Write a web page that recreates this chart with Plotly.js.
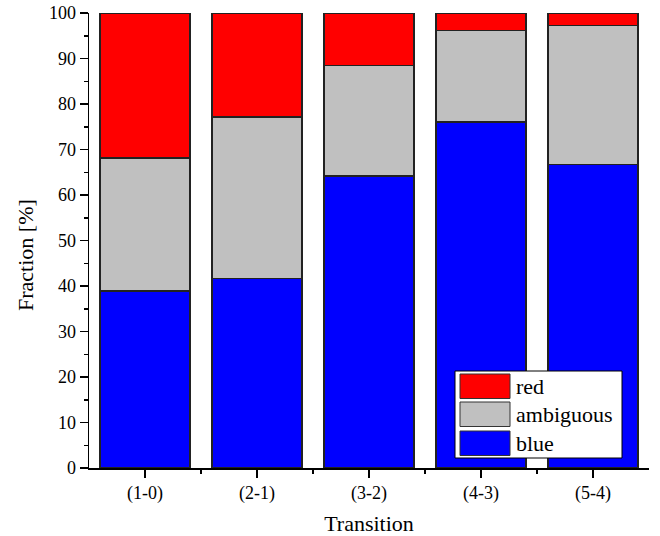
<!DOCTYPE html>
<html>
<head>
<meta charset="utf-8">
<script src="https://cdn.plot.ly/plotly-3.0.1.min.js"></script>
<style>html,body{margin:0;padding:0;background:#fff}#chart{width:660px;height:536px}</style>
</head>
<body>
<div id="chart"></div>
<script>
const categories = ["(1-0)", "(2-1)", "(3-2)", "(4-3)", "(5-4)"];
const blueVals = [38.9, 41.6, 64.2, 76.0, 66.7];
const ambiguousVals = [29.2, 35.5, 24.3, 20.2, 30.5];
const redVals = [31.9, 22.9, 11.5, 3.8, 2.8];
const seriesNames = ["red", "ambiguous", "blue"];
const seriesColors = ["#ff0000", "#c0c0c0", "#0000ff"];
const xTitle = "Transition";
const yTitle = "Fraction [%]";

const FONT = "Liberation Serif, Times New Roman, serif";
const xIdx = categories.map((_, i) => i);
const lineStyle = {color: "#222", width: 1.5};

const traces = [
  {type: "bar", name: seriesNames[2], x: xIdx, y: blueVals, marker: {color: seriesColors[2], line: lineStyle}, showlegend: false, hoverinfo: "skip"},
  {type: "bar", name: seriesNames[1], x: xIdx, y: ambiguousVals, marker: {color: seriesColors[1], line: lineStyle}, showlegend: false, hoverinfo: "skip"},
  {type: "bar", name: seriesNames[0], x: xIdx, y: redVals, marker: {color: seriesColors[0], line: lineStyle}, showlegend: false, hoverinfo: "skip"}
];

// custom legend (large swatches) in paper coordinates
const W = 660 - 89 - 11, H = 536 - 13 - 68;
const px = v => (v - 89) / W;
const py = v => (536 - 68 - v) / H;
const shapes = [{type: "rect", xref: "paper", yref: "paper", x0: px(455), x1: px(622), y0: py(458), y1: py(371), fillcolor: "#fff", line: {color: "#000", width: 1}}];
const annotations = [];
const swTop = [374, 402, 431];
seriesNames.forEach((n, i) => {
  shapes.push({type: "rect", xref: "paper", yref: "paper", x0: px(460), x1: px(510), y0: py(swTop[i] + 24.5), y1: py(swTop[i]), fillcolor: seriesColors[i], line: {color: "#333", width: 1}});
  annotations.push({xref: "paper", yref: "paper", x: px(514), y: py(swTop[i] + 12), xanchor: "left", yanchor: "middle", text: n, showarrow: false, font: {family: FONT, size: 22, color: "#000"}});
});
// y-axis title, placed as in the reference (slightly below plot centre)
annotations.push({xref: "paper", yref: "paper", x: px(25), y: py(255), xanchor: "center", yanchor: "middle", textangle: -90, text: yTitle, showarrow: false, font: {family: FONT, size: 22, color: "#000"}});

const layout = {
  width: 660, height: 536,
  margin: {l: 89, r: 11, t: 13, b: 68},
  paper_bgcolor: "#fff", plot_bgcolor: "#fff",
  barmode: "stack", bargap: 0.2,
  font: {family: FONT, color: "#000"},
  showlegend: false,
  xaxis: {
    range: [-0.5, 4.5], tickmode: "array", tickvals: xIdx, ticktext: categories,
    ticks: "outside", ticklen: 8, tickwidth: 1.5, tickcolor: "#000",
    showline: true, linecolor: "#000", linewidth: 1.5, showgrid: false, zeroline: false,
    tickfont: {family: FONT, size: 18, color: "#000"},
    minor: {tickmode: "array", tickvals: [0.5, 1.5, 2.5, 3.5], ticks: "outside", ticklen: 4, tickwidth: 1.5, tickcolor: "#000", showgrid: false},
    title: {text: xTitle, font: {family: FONT, size: 22, color: "#000"}, standoff: 16},
    fixedrange: true
  },
  xaxis2: {
    overlaying: "x", side: "top", range: [-0.5, 4.5], tickmode: "array", tickvals: xIdx,
    showticklabels: false, ticks: "inside", ticklen: 8, tickwidth: 1.5, tickcolor: "#000",
    showline: true, linecolor: "#000", linewidth: 1.5, showgrid: false, zeroline: false,
    minor: {tickmode: "array", tickvals: [0.5, 1.5, 2.5, 3.5], ticks: "inside", ticklen: 4, tickwidth: 1.5, tickcolor: "#000", showgrid: false}
  },
  yaxis: {
    range: [0, 100], dtick: 10, tick0: 0,
    ticks: "outside", ticklen: 8, tickwidth: 1.5, tickcolor: "#000",
    showline: true, linecolor: "#000", linewidth: 1.5, showgrid: false, zeroline: false,
    tickfont: {family: FONT, size: 18, color: "#000"},
    minor: {dtick: 5, ticks: "outside", ticklen: 4, tickwidth: 1.5, tickcolor: "#000", showgrid: false},
    fixedrange: true
  },
  yaxis2: {
    overlaying: "y", side: "right", range: [0, 100], dtick: 10, tick0: 0,
    showticklabels: false, ticks: "inside", ticklen: 8, tickwidth: 1.5, tickcolor: "#000",
    showline: true, linecolor: "#000", linewidth: 1.5, showgrid: false, zeroline: false,
    minor: {dtick: 5, ticks: "inside", ticklen: 4, tickwidth: 1.5, tickcolor: "#000", showgrid: false}
  },
  shapes: shapes,
  annotations: annotations
};

Plotly.newPlot("chart", traces, layout, {displayModeBar: false, staticPlot: true});
</script>
</body>
</html>
